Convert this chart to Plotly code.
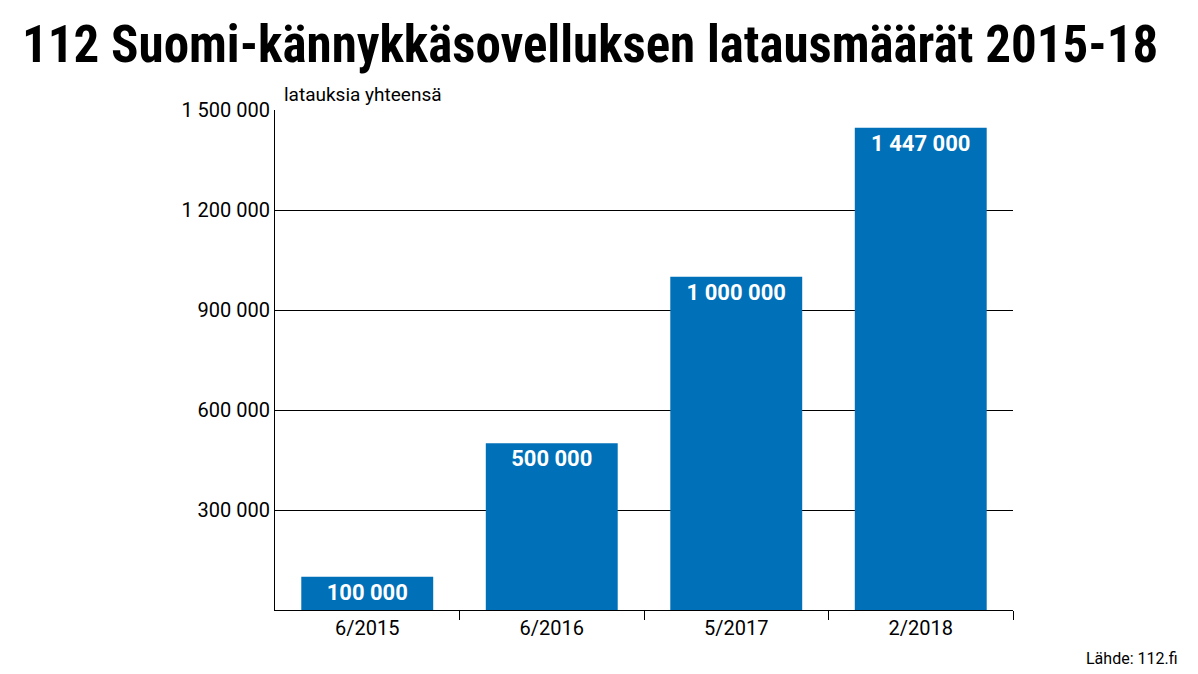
import plotly.graph_objects as go

categories = ["6/2015", "6/2016", "5/2017", "2/2018"]
values = [100000, 500000, 1000000, 1447000]

L, R, T, B = 267, 193, 102, 72
W, H = 1198, 674

fig = go.Figure(go.Bar(
    x=list(range(len(categories))), y=values,
    marker=dict(color="#0070b8", line=dict(width=0)),
    texttemplate="<b>%{y:,d}</b>", textposition="inside", insidetextanchor="end",
    textfont=dict(color="white", size=22, family="Liberation Sans Narrow, Roboto"),
    textangle=0, width=0.715,
))
fig.update_layout(
    width=W, height=H, plot_bgcolor="white", paper_bgcolor="white",
    margin=dict(l=L, r=R, t=T, b=B), separators=", ",
    font=dict(family="Roboto, Noto Sans", color="black"),
    showlegend=False,
    xaxis=dict(range=[-0.5, 3.5], tickvals=list(range(len(categories))), ticktext=categories,
               ticks="", showgrid=False, showline=True, linecolor="black", linewidth=1,
               tickfont=dict(size=20), zeroline=False,
               minor=dict(tickvals=[0.5, 1.5, 2.5, 3.5], ticks="outside", ticklen=9,
                          tickcolor="black", showgrid=False)),
    yaxis=dict(range=[0, 1500000], tickvals=[0, 300000, 600000, 900000, 1200000, 1500000],
               ticktext=["", "300 000", "600 000", "900 000", "1 200 000", "1 500 000"],
               showgrid=True, gridcolor="black", gridwidth=1, showline=True, linecolor="black",
               zeroline=False, tickfont=dict(size=20), ticks=""),
    annotations=[
        dict(text="<b>112 Suomi-kännykkäsovelluksen latausmäärät 2015-18</b>", x=12, y=36,
             showarrow=False, xanchor="left", yanchor="middle",
             font=dict(size=51, family="Liberation Sans Narrow, Roboto Condensed, Roboto")),
        dict(text="latauksia yhteensä", x=274, y=87, xanchor="left", yanchor="middle",
             showarrow=False, font=dict(size=19)),
        dict(text="Lähde: 112.fi", x=1172, y=650, xanchor="right", yanchor="middle",
             showarrow=False, font=dict(size=16)),
    ],
)
pw, ph = W - L - R, H - T - B
for a in fig.layout.annotations:
    a.xref = "paper"; a.yref = "paper"
    a.x = (a.x - L) / pw
    a.y = (H - B - a.y) / ph
fig.write_html("out.html")
